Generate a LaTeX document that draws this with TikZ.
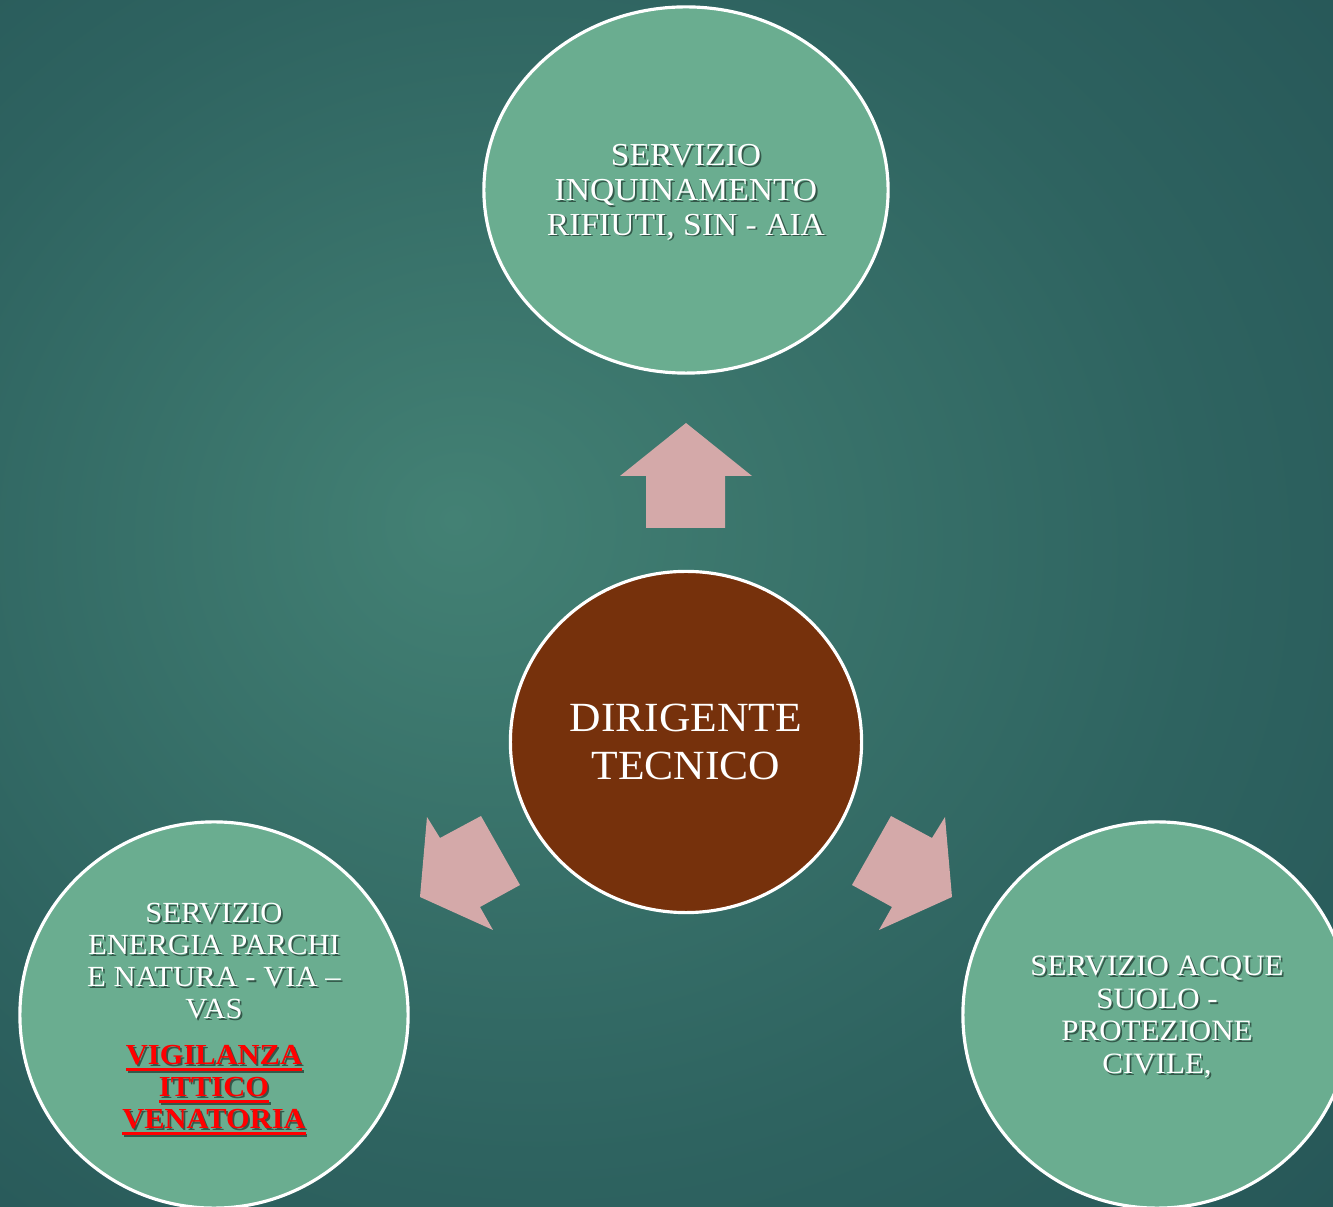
\documentclass[tikz,border=0pt]{standalone}
\usepackage{fontspec}
\setmainfont{Liberation Serif}[FakeStretch=1.05]
\usepackage{xcolor}
\usetikzlibrary{calc, shapes}
\newsavebox{\alertbox}
\definecolor{bglight}{RGB}{67,129,116}
\definecolor{bgmid}{RGB}{46,99,96}
\definecolor{bgdark}{RGB}{26,66,74}
\definecolor{servicegreen}{RGB}{106,173,144}
\definecolor{textshadow}{RGB}{52,88,74}
\definecolor{directorbrown}{RGB}{118,49,12}
\definecolor{arrowpink}{RGB}{212,169,169}
\pgfdeclareradialshading{bgglow}{\pgfpoint{-8bp}{3.5bp}}{color(0bp)=(bglight); color(25bp)=(bgmid); color(62bp)=(bgdark)}

\begin{document}
\begin{tikzpicture}[x=0.01cm, y=-0.01cm,
	servicecircle/.style={ellipse, draw=white, line width=0.9pt, fill=servicegreen, text=white, align=center, inner sep=0pt, minimum width=3.88cm, minimum height=3.86cm},
	directorcircle/.style={ellipse, draw=white, line width=0.9pt, fill=directorbrown, text=white, align=center, inner sep=0pt, minimum width=3.51cm, minimum height=3.41cm},
	blockarrow/.style={fill=arrowpink}]
				\newcommand{\myshadow}[1]{%
					\makebox[0pt][l]{\hspace{0.5pt}\raisebox{-0.5pt}{\color{textshadow}#1}}#1%
				}\newcommand{\myunderline}[1]{%
					\sbox{\alertbox}{#1}\rlap{\rule[-1.8pt]{\wd\alertbox}{0.9pt}}\usebox{\alertbox}%
				}\newcommand{\myfontalert}[1]{%
					{\fontsize{8.25}{9}\selectfont\bfseries\makebox[0pt][l]{\hspace{0.5pt}\raisebox{-0.5pt}{\color{textshadow}\myunderline{#1}}}\color{red}\myunderline{#1}}%
				}%Background
				\useasboundingbox (0,0) rectangle (1333,1207);
				\clip (0,0) rectangle (1333,1207);
				\shade[shading=bgglow] (0,0) rectangle (1333,1207);
				%Centers of the circles
				\coordinate (centerTop) at (686,190);
				\coordinate (centerMid) at (686,742);
				\coordinate (centerLeft) at (214,1015);
				\coordinate (centerRight) at (1157,1015);
				%The circles
				\node [servicecircle, minimum width=4.04cm, minimum height=3.66cm, font={\fontsize{9.1}{9.9}\selectfont}] (top) at (centerTop) {\rule{0pt}{7.8pt}\myshadow{SERVIZIO}\\\myshadow{INQUINAMENTO}\\\myshadow{RIFIUTI, SIN - AIA}};
				\node [directorcircle, font={\fontsize{11.8}{13.4}\selectfont}] (mid) at (centerMid) {DIRIGENTE\\TECNICO};
				\node [servicecircle, font={\fontsize{8.3}{9.1}\selectfont}] (left) at (centerLeft) {\rule{0pt}{8.4pt}\myshadow{SERVIZIO}\\\myshadow{ENERGIA PARCHI}\\\myshadow{E NATURA - VIA --}\\\myshadow{VAS}\\[4pt]\myfontalert{VIGILANZA}\\\myfontalert{ITTICO}\\\myfontalert{VENATORIA}};
				\node [servicecircle, font={\fontsize{8.4}{9.25}\selectfont}] (right) at (centerRight) {\rule{0pt}{7.2pt}\myshadow{SERVIZIO ACQUE}\\\myshadow{SUOLO -}\\\myshadow{PROTEZIONE}\\\myshadow{CIVILE,}};
				%Arrow pointing up
				\coordinate (upTip) at (686,423);
				\coordinate (upBarbL) at (620,476);
				\coordinate (upBarbR) at (752,476);
				\coordinate (upShaftL) at (646,476);
				\coordinate (upShaftR) at (725,476);
				\coordinate (upBackL) at (646,528);
				\coordinate (upBackR) at (725,528);
				\fill [blockarrow] (upTip) -- (upBarbR) -- (upShaftR) -- (upBackR) -- (upBackL) -- (upShaftL) -- (upBarbL) -- cycle;
				%Arrow pointing down-left
				\coordinate (dlTip) at (420,897);
				\coordinate (dlBarb1) at (427,817);
				\coordinate (dlShaft1) at (440,838);
				\coordinate (dlBack1) at (481,816);
				\coordinate (dlBack2) at (520,885);
				\coordinate (dlShaft2) at (480,907);
				\coordinate (dlBarb2) at (493,930);
				\fill [blockarrow] (dlTip) -- (dlBarb1) -- (dlShaft1) -- (dlBack1) -- (dlBack2) -- (dlShaft2) -- (dlBarb2) -- cycle;
				%Arrow pointing down-right
				\coordinate (drTip) at (952,897);
				\coordinate (drBarb1) at (945,817);
				\coordinate (drShaft1) at (932,838);
				\coordinate (drBack1) at (891,816);
				\coordinate (drBack2) at (852,885);
				\coordinate (drShaft2) at (892,907);
				\coordinate (drBarb2) at (879,930);
				\fill [blockarrow] (drTip) -- (drBarb1) -- (drShaft1) -- (drBack1) -- (drBack2) -- (drShaft2) -- (drBarb2) -- cycle;
\end{tikzpicture}
\end{document}
